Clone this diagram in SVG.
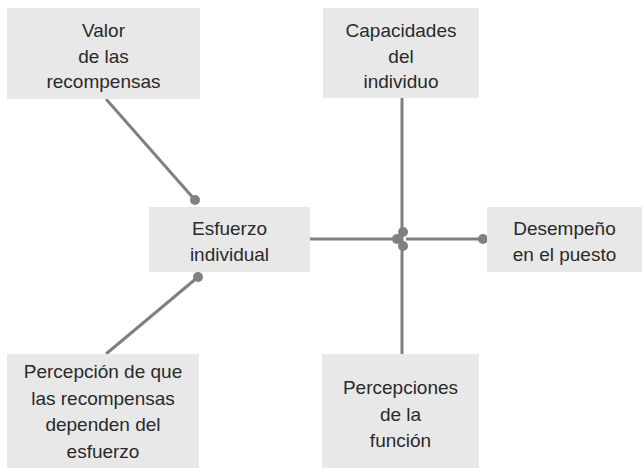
<svg xmlns="http://www.w3.org/2000/svg" width="643" height="469" viewBox="0 0 643 469">
<style>
.box{fill:#e8e8e8}
.t{font-family:"Liberation Sans",Arial,sans-serif;font-size:19px;fill:#2a2a2a;text-anchor:middle}
.ln{stroke:#808080;stroke-width:3;fill:none}
.dot{fill:#808080}
</style>
<rect width="643" height="469" fill="#fff"/>
<g id="connectors">
<line class="ln" x1="106" y1="99" x2="195" y2="200"/>
<circle class="dot" cx="195" cy="200" r="5"/>
<line class="ln" x1="106" y1="354" x2="198" y2="277"/>
<circle class="dot" cx="198" cy="277" r="5"/>
<line class="ln" x1="310" y1="239" x2="397" y2="239"/>
<circle class="dot" cx="397" cy="239" r="5"/>
<line class="ln" x1="402" y1="98" x2="402" y2="354"/>
<circle class="dot" cx="403" cy="232" r="5"/>
<circle class="dot" cx="403" cy="246" r="5"/>
<line class="ln" x1="406" y1="239" x2="483" y2="239"/>
<circle class="dot" cx="483" cy="239" r="5"/>
</g>
<g id="valor">
<rect class="box" x="7" y="8" width="193" height="91"/>
<text class="t" x="103.5" y="37">Valor</text>
<text class="t" x="103.5" y="63">de las</text>
<text class="t" x="103.5" y="88">recompensas</text>
</g>
<g id="capacidades">
<rect class="box" x="323" y="8" width="156" height="90"/>
<text class="t" x="401" y="37">Capacidades</text>
<text class="t" x="401" y="63">del</text>
<text class="t" x="401" y="88">individuo</text>
</g>
<g id="esfuerzo">
<rect class="box" x="149" y="207" width="161" height="65"/>
<text class="t" x="229.5" y="235">Esfuerzo</text>
<text class="t" x="229.5" y="261">individual</text>
</g>
<g id="desempeno">
<rect class="box" x="487" y="207" width="155" height="65"/>
<text class="t" x="564.5" y="235">Desempeño</text>
<text class="t" x="564.5" y="261">en el puesto</text>
</g>
<g id="percepcion">
<rect class="box" x="7" y="354" width="192" height="114"/>
<text class="t" x="103" y="378">Percepción de que</text>
<text class="t" x="103" y="405">las recompensas</text>
<text class="t" x="103" y="431">dependen del</text>
<text class="t" x="103" y="458">esfuerzo</text>
</g>
<g id="percepciones">
<rect class="box" x="322" y="354" width="157" height="114"/>
<text class="t" x="400.5" y="394">Percepciones</text>
<text class="t" x="400.5" y="421">de la</text>
<text class="t" x="400.5" y="447">función</text>
</g>
</svg>
